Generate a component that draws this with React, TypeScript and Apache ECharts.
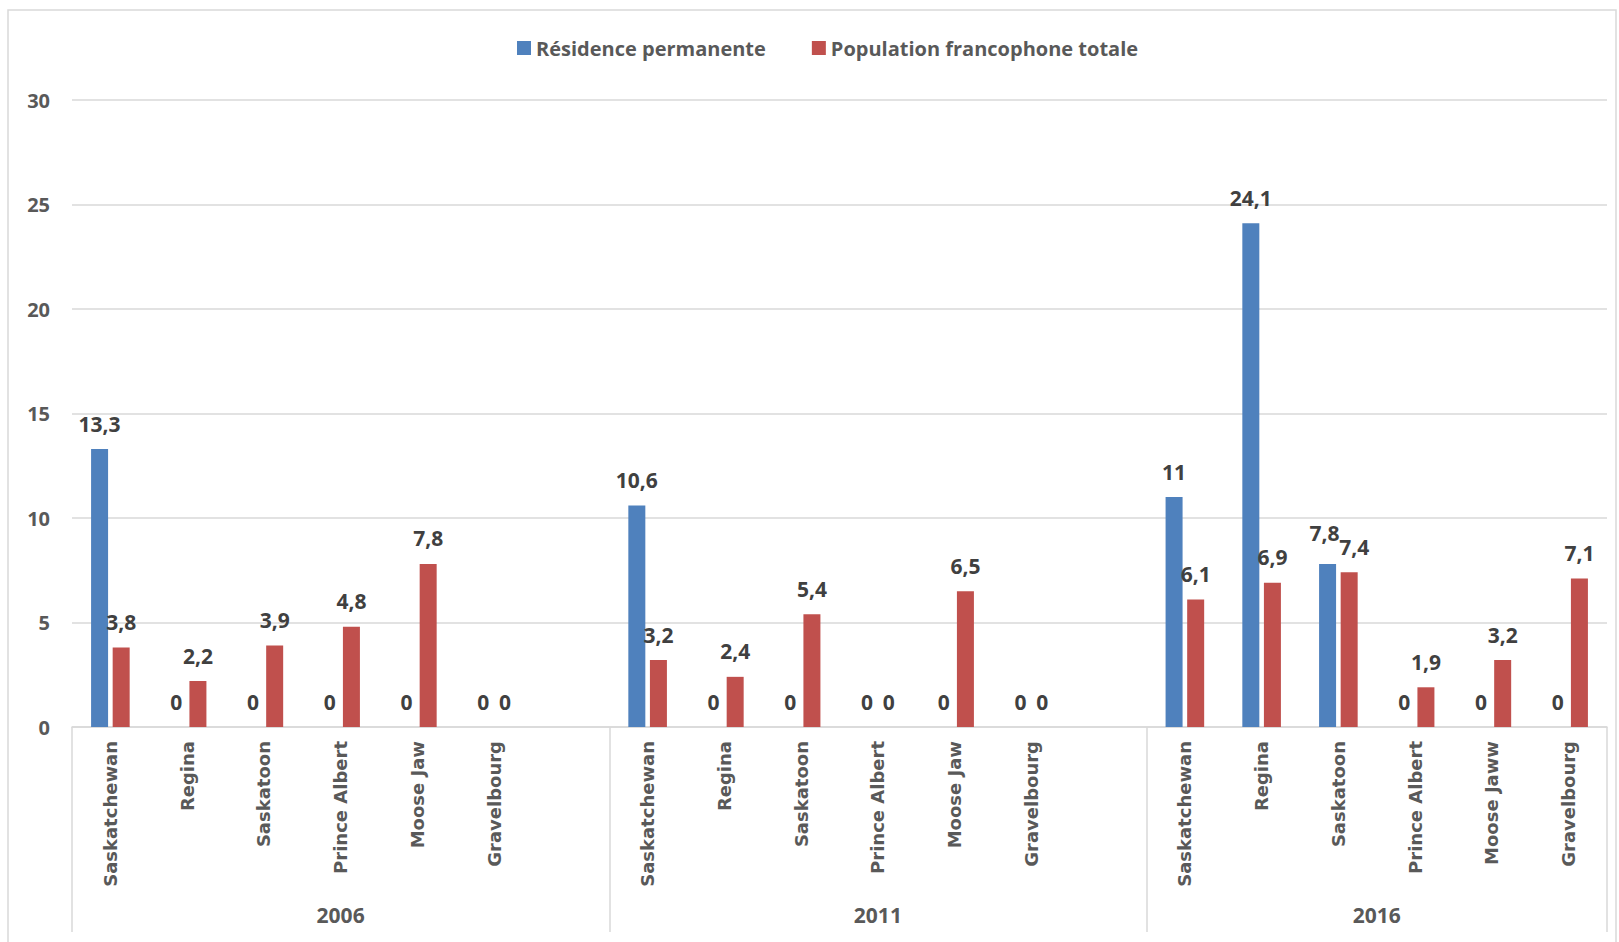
import React, { useEffect, useRef } from "react";
import * as echarts from "echarts";

const years = ["2006", "2011", "2016"];
const groupSizes = [7, 7, 6];
const categories = [
  "Saskatchewan", "Regina", "Saskatoon", "Prince Albert", "Moose Jaw", "Gravelbourg", "",
  "Saskatchewan", "Regina", "Saskatoon", "Prince Albert", "Moose Jaw", "Gravelbourg", "",
  "Saskatchewan", "Regina", "Saskatoon", "Prince Albert", "Moose Jaww", "Gravelbourg",
];
const residencePermanente = [
  13.3, 0, 0, 0, 0, 0, null,
  10.6, 0, 0, 0, 0, 0, null,
  11, 24.1, 7.8, 0, 0, 0,
];
const populationFrancophone = [
  3.8, 2.2, 3.9, 4.8, 7.8, 0, null,
  3.2, 2.4, 5.4, 0, 6.5, 0, null,
  6.1, 6.9, 7.4, 1.9, 3.2, 7.1,
];
const yTicks = [0, 5, 10, 15, 20, 25, 30];

export default function App() {
  const ref = useRef<HTMLDivElement>(null);
  useEffect(() => {
    if (!ref.current) return;
    const chart = echarts.init(ref.current, null, { renderer: "svg" });
    const bounds: number[] = [0];
    groupSizes.forEach((s) => bounds.push(bounds[bounds.length - 1] + s));
    const centers = groupSizes.map((s, i) => bounds[i] + s / 2);
    const total = bounds[bounds.length - 1];
    const fmt = (p: any) => (p.value == null ? "" : String(p.value).replace(".", ","));
    const labelStyle = {
      show: true,
      position: "top" as const,
      distance: 15,
      formatter: fmt,
      fontFamily: "Open Sans",
      fontWeight: "bold" as const,
      fontSize: 21,
      color: "#404040",
    };
    // nudge the two touching labels of 2016 Saskatoon apart, as in the reference
    const crowded = 16;
    const blueData = residencePermanente.map((v, i) =>
      i === crowded ? { value: v, label: { offset: [-3, -5] } } : v
    );
    const redData = populationFrancophone.map((v, i) =>
      i === crowded ? { value: v, label: { offset: [5, 0] } } : v
    );
    chart.setOption({
      animation: false,
      backgroundColor: "#ffffff",
      graphic: [
        {
          type: "rect",
          shape: { x: 8, y: 10, width: 1608, height: 940 },
          style: { fill: "none", stroke: "#d9d9d9", lineWidth: 1.5 },
          silent: true,
        },
      ],
      legend: {
        left: 512,
        top: 33,
        padding: [5, 5, 5, 5],
        itemWidth: 14,
        itemHeight: 14,
        itemGap: 46,
        icon: "rect",
        textStyle: { fontFamily: "Open Sans", fontWeight: "bold", fontSize: 20, color: "#595959" },
        data: ["Résidence permanente", "Population francophone totale"],
      },
      grid: { left: 72, right: 12, top: 100, bottom: 215, containLabel: false },
      xAxis: [
        {
          type: "category",
          data: categories,
          position: "bottom",
          axisLine: { show: true, lineStyle: { color: "#d9d9d9", width: 1.5 } },
          axisTick: { show: false },
          axisLabel: {
            interval: 0,
            rotate: 90,
            margin: 14,
            fontFamily: "DejaVu Sans",
            fontWeight: "bold",
            fontSize: 18,
            color: "#595959",
          },
        },
        {
          type: "value",
          min: 0,
          max: total,
          position: "bottom",
          axisLine: { show: false },
          splitLine: { show: false },
          axisTick: {
            show: true,
            customValues: bounds,
            length: 205,
            lineStyle: { color: "#d9d9d9", width: 1.5 },
          },
          axisLabel: {
            customValues: centers,
            margin: 177,
            formatter: (v: number) => {
              const i = centers.indexOf(v);
              return i >= 0 ? years[i] : "";
            },
            fontFamily: "Open Sans",
            fontWeight: "bold",
            fontSize: 21,
            color: "#595959",
          },
        },
      ],
      yAxis: {
        type: "value",
        min: yTicks[0],
        max: yTicks[yTicks.length - 1],
        interval: 5,
        axisLine: { show: false },
        axisTick: { show: false },
        splitLine: { lineStyle: { color: "#d9d9d9", width: 1.5 } },
        axisLabel: {
          margin: 22,
          fontFamily: "Open Sans",
          fontWeight: "bold",
          fontSize: 20,
          color: "#595959",
        },
      },
      series: [
        {
          name: "Résidence permanente",
          type: "bar",
          xAxisIndex: 0,
          data: blueData,
          barWidth: 17,
          barGap: "27%",
          itemStyle: { color: "#4f81bd" },
          label: labelStyle,
        },
        {
          name: "Population francophone totale",
          type: "bar",
          xAxisIndex: 0,
          data: redData,
          barWidth: 17,
          barGap: "27%",
          itemStyle: { color: "#c0504d" },
          label: labelStyle,
        },
      ],
    });
    return () => chart.dispose();
  }, []);
  return (
    <div
      ref={ref}
      style={{ position: "fixed", left: 0, top: 0, width: 1619, height: 942, background: "#fff" }}
    />
  );
}
